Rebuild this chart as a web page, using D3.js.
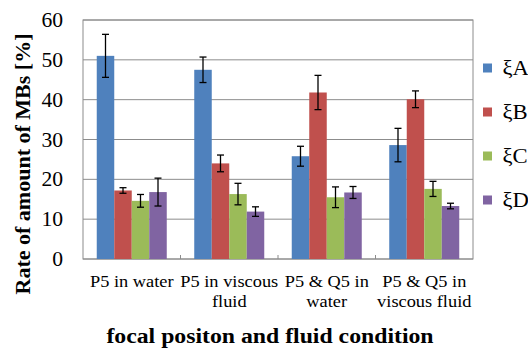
<!DOCTYPE html>
<html>
<head>
<meta charset="utf-8">
<script src="https://cdn.jsdelivr.net/npm/d3@7"></script>
<style>
  body { margin: 0; background: #fff; }
  text { font-family: "Liberation Serif", "Times New Roman", serif; }
</style>
</head>
<body>
<div id="chart"></div>
<script>
const categories = [
  ["P5 in water"],
  ["P5 in viscous", "fluid"],
  ["P5 & Q5 in", "water"],
  ["P5 & Q5 in", "viscous fluid"],
];
const seriesNames = ["ξA", "ξB", "ξC", "ξD"];
const seriesColors = ["#4F81BD", "#C0504D", "#9BBB59", "#8064A2"];
// values[series][category]
const values = [
  [51.0, 47.5, 25.8, 28.6],
  [17.2, 24.0, 41.8, 40.1],
  [14.6, 16.3, 15.5, 17.6],
  [16.8, 11.9, 16.7, 13.3],
];
const errors = [
  [5.4, 3.2, 2.5, 4.2],
  [0.7, 2.1, 4.3, 2.1],
  [1.6, 2.7, 2.6, 1.9],
  [3.5, 1.2, 1.5, 0.7],
];
const yTicks = [0, 10, 20, 30, 40, 50, 60];

const width = 528, height = 348;
const margin = { top: 20, right: 55, bottom: 89, left: 83 };
const plotW = width - margin.left - margin.right;
const plotH = height - margin.top - margin.bottom;
const stretch = 1.08; // the source text is a little wide

const svg = d3.select("#chart").append("svg")
  .attr("width", width).attr("height", height);
const g = svg.append("g").attr("transform", `translate(${margin.left},${margin.top})`);

const x0 = d3.scaleBand().domain(d3.range(categories.length)).range([0, plotW]);
const gap = x0.bandwidth() * 0.141;
const x1 = d3.scaleBand().domain(d3.range(seriesNames.length))
  .range([gap, x0.bandwidth() - gap]);
const y = d3.scaleLinear().domain([0, 60]).range([plotH, 0]);

// gridlines
g.selectAll(".grid").data(yTicks).enter().append("line")
  .attr("x1", 0).attr("x2", plotW)
  .attr("y1", d => y(d)).attr("y2", d => y(d))
  .attr("stroke", "#8c8c8c").attr("stroke-width", 1);

// plot border
g.append("rect").attr("x", 0).attr("y", 0).attr("width", plotW).attr("height", plotH)
  .attr("fill", "none").attr("stroke", "#8c8c8c").attr("stroke-width", 1);

// category ticks (inward)
g.selectAll(".ctick").data(d3.range(1, categories.length)).enter().append("line")
  .attr("x1", d => x0(d)).attr("x2", d => x0(d))
  .attr("y1", plotH).attr("y2", plotH - 4)
  .attr("stroke", "#8c8c8c");

// y tick labels
g.selectAll(".ylab").data(yTicks).enter().append("text")
  .attr("transform", d => `translate(-20,${y(d)}) scale(${stretch},1)`)
  .attr("dy", "0.35em")
  .attr("text-anchor", "end").attr("font-size", 20).attr("fill", "#000")
  .text(d => d);

// bars
const groups = g.selectAll(".series").data(values).enter().append("g")
  .attr("fill", (d, i) => seriesColors[i]);
groups.selectAll("rect").data((d, i) => d.map((v, j) => ({ v, j, i }))).enter().append("rect")
  .attr("x", d => x0(d.j) + x1(d.i))
  .attr("y", d => y(d.v))
  .attr("width", x1.bandwidth())
  .attr("height", d => plotH - y(d.v));

// error bars
const errData = [];
values.forEach((row, i) => row.forEach((v, j) => errData.push({ v, e: errors[i][j], i, j })));
const eb = g.selectAll(".err").data(errData).enter().append("g")
  .attr("stroke", "#000").attr("stroke-width", 1.3);
const cx = d => x0(d.j) + x1(d.i) + x1.bandwidth() / 2;
eb.append("line").attr("x1", cx).attr("x2", cx)
  .attr("y1", d => y(d.v + d.e)).attr("y2", d => y(d.v - d.e));
eb.append("line").attr("x1", d => cx(d) - 3.5).attr("x2", d => cx(d) + 3.5)
  .attr("y1", d => y(d.v + d.e)).attr("y2", d => y(d.v + d.e));
eb.append("line").attr("x1", d => cx(d) - 3.5).attr("x2", d => cx(d) + 3.5)
  .attr("y1", d => y(d.v - d.e)).attr("y2", d => y(d.v - d.e));

// category labels
const catLab = g.selectAll(".cat").data(categories).enter().append("text")
  .attr("text-anchor", "middle").attr("font-size", 17)
  .attr("transform", (d, j) =>
    `translate(${x0(j) + x0.bandwidth() / 2},${plotH + 28}) scale(${stretch},1)`);
catLab.selectAll("tspan").data(d => d).enter().append("tspan")
  .attr("x", 0).attr("dy", (d, k) => k === 0 ? 0 : 20.5)
  .text(d => d);

// axis titles
svg.append("text")
  .attr("transform", `translate(270,343) scale(${stretch},1)`)
  .attr("text-anchor", "middle").attr("font-size", 22).attr("font-weight", "bold")
  .text("focal positon and fluid condition");
svg.append("text")
  .attr("transform", "translate(30,164) rotate(-90)")
  .attr("text-anchor", "middle").attr("font-size", 22).attr("font-weight", "bold")
  .text("Rate of amount of MBs [%]");

// legend
const leg = svg.selectAll(".leg").data(seriesNames).enter().append("g")
  .attr("transform", (d, i) => `translate(483,${68 + i * 44})`);
leg.append("rect").attr("x", 0).attr("y", -4.5).attr("width", 9).attr("height", 9)
  .attr("fill", (d, i) => seriesColors[i]);
leg.append("text").attr("x", 18).attr("dy", "0.35em").attr("font-size", 21)
  .attr("transform", `scale(${stretch},1)`)
  .text(d => d);
</script>
</body>
</html>
